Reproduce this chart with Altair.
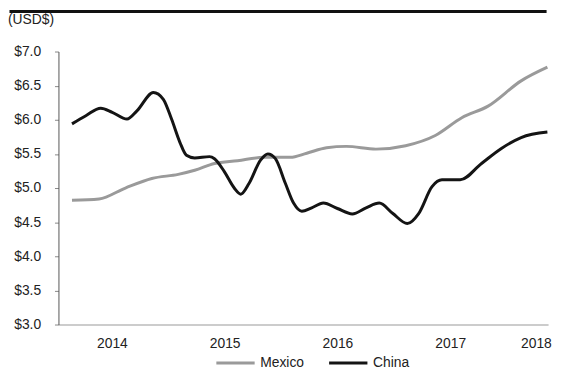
import altair as alt
import pandas as pd

# Decimal-year positions and values (USD)
china_t = [2014.146, 2014.269, 2014.401, 2014.503, 2014.634, 2014.722, 2014.868, 2014.956,
           2015.029, 2015.103, 2015.161, 2015.234, 2015.366, 2015.410, 2015.497, 2015.585,
           2015.643, 2015.717, 2015.818, 2015.883, 2015.950, 2016.038, 2016.111, 2016.184,
           2016.272, 2016.375, 2016.500, 2016.632, 2016.754, 2016.871, 2016.989, 2017.120,
           2017.222, 2017.339, 2017.427, 2017.588, 2017.778, 2017.954, 2018.129, 2018.362]
china_v = [5.94, 6.06, 6.17, 6.11, 6.01, 6.13, 6.40, 6.30,
           6.01, 5.67, 5.48, 5.44, 5.46, 5.43, 5.24, 5.00,
           4.91, 5.07, 5.41, 5.50, 5.43, 5.07, 4.78, 4.66,
           4.71, 4.78, 4.70, 4.62, 4.71, 4.78, 4.63, 4.48,
           4.63, 5.02, 5.12, 5.12, 5.36, 5.58, 5.74, 5.82]

mexico_t = [2014.146, 2014.386, 2014.620, 2014.854, 2015.088, 2015.234, 2015.410, 2015.614,
            2015.848, 2016.082, 2016.228, 2016.404, 2016.579, 2016.842, 2017.105, 2017.368,
            2017.603, 2017.836, 2018.129, 2018.362]
mexico_v = [4.82, 4.84, 5.00, 5.14, 5.20, 5.26, 5.36, 5.40,
            5.45, 5.45, 5.51, 5.59, 5.61, 5.57, 5.62, 5.77,
            6.03, 6.20, 6.57, 6.77]

series_names = ["Mexico", "China"]
series_colors = ["#9a9a9a", "#141414"]

year_label_pos = [2014.5, 2015.5, 2016.5, 2017.5, 2018.26]
y_ticks = [3.0, 3.5, 4.0, 4.5, 5.0, 5.5, 6.0, 6.5, 7.0]
unit_label = "(USD$)"

df = pd.concat([
    pd.DataFrame({"t": mexico_t, "value": mexico_v, "country": "Mexico"}),
    pd.DataFrame({"t": china_t, "value": china_v, "country": "China"}),
])

W, H = 495, 276

lines = alt.Chart(df).mark_line(strokeWidth=3, interpolate="monotone").encode(
    x=alt.X("t:Q",
            scale=alt.Scale(domain=[2014.026, 2018.368], nice=False, zero=False),
            axis=alt.Axis(values=year_label_pos,
                          labelExpr="format(floor(datum.value), 'd')",
                          title=None, ticks=False, grid=False,
                          domainColor="#bbbbbb", domainWidth=1.5,
                          labelPadding=12, labelFontSize=14, labelColor="#222222")),
    y=alt.Y("value:Q",
            scale=alt.Scale(domain=[3, 7], nice=False, zero=False),
            axis=alt.Axis(values=y_ticks, format="$.1f", title=None, grid=False,
                          tickSize=4, tickColor="#888888", labelPadding=14,
                          domainColor="#555555", labelFontSize=14,
                          labelColor="#222222")),
    color=alt.Color("country:N",
                    scale=alt.Scale(domain=series_names, range=series_colors),
                    sort=series_names,
                    legend=alt.Legend(orient="none", legendX=158, legendY=294,
                                      direction="horizontal", title=None,
                                      symbolType="stroke", symbolSize=1500,
                                      symbolStrokeWidth=3, labelFontSize=14,
                                      labelColor="#222222", labelOffset=4,
                                      columnPadding=18, padding=0)),
)

top_rule = alt.Chart(pd.DataFrame({"a": [0]})).mark_rule(
    color="#111111", strokeWidth=3
).encode(x=alt.value(-49.5), x2=alt.value(493.5), y=alt.value(-40.5))

unit_text = alt.Chart(pd.DataFrame({"label": [unit_label]})).mark_text(
    align="left", baseline="middle", fontSize=14, color="#222222"
).encode(x=alt.value(-51), y=alt.value(-32), text="label:N")

chart = alt.layer(lines, top_rule, unit_text).properties(
    width=W, height=H, padding=0
).configure(font="Liberation Sans").configure_view(stroke=None)

chart.save("out.html", embed_options={"renderer": "svg", "actions": False})
